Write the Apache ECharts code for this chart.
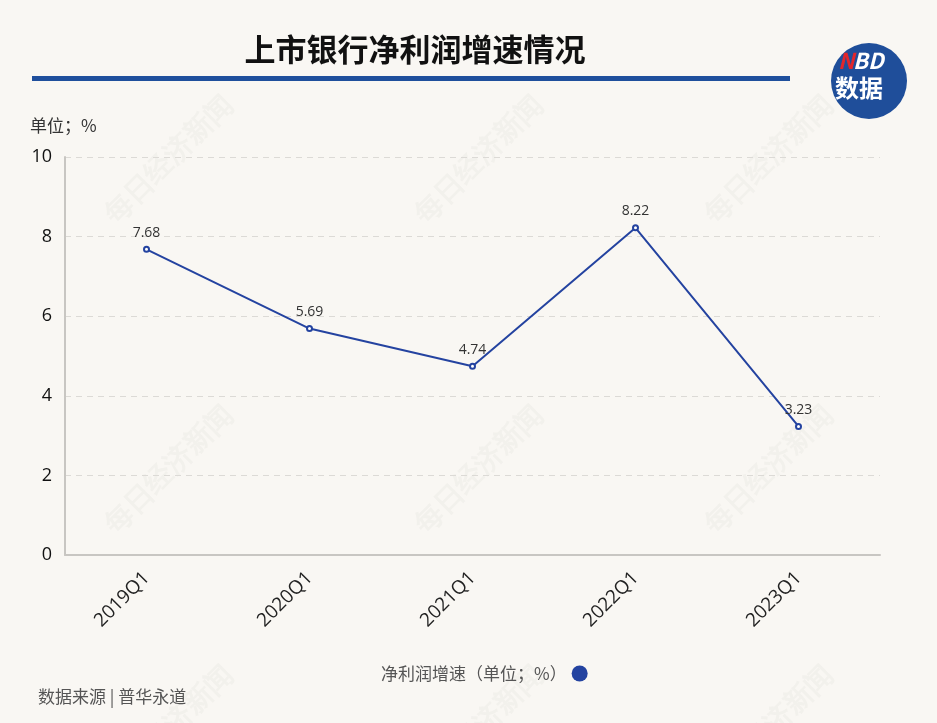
<!DOCTYPE html>
<html><head><meta charset="utf-8">
<script src="https://cdn.jsdelivr.net/npm/echarts@6/dist/echarts.min.js"></script>
<style>html,body{margin:0;padding:0;background:#f9f7f3;}#c{width:937px;height:723px;}</style>
</head><body><div id="c"></div>
<script>
const categories = ['2019Q1','2020Q1','2021Q1','2022Q1','2023Q1'];
const growth = [7.68, 5.69, 4.74, 8.22, 3.23];
const seriesName = '净利润增速（单位；%）';
const titleText = '上市银行净利润增速情况';
const sourceText = '数据来源 | 普华永道';
const unitText = '单位；%';
const watermark = '每日经济新闻';

const font = '"Noto Sans CJK SC", "Noto Sans", sans-serif';
const wmPos = [[170,160],[480,160],[770,160],[170,470],[480,470],[770,470],[170,730],[480,730],[770,730]];
const graphics = [
  {type:'rect', shape:{x:32,y:76,width:758,height:5}, style:{fill:'#1f4f9c'}},
  {type:'circle', shape:{cx:869,cy:81,r:38}, style:{fill:'#1f4e9a'}},
  {type:'text', left:838, top:50, style:{text:'N', fill:'#e3262b', font:'bold italic 22px '+font}},
  {type:'text', left:853, top:50, style:{text:'BD', fill:'#ffffff', font:'bold italic 22px '+font}},
  {type:'text', left:835, top:76, style:{text:'数据', fill:'#ffffff', font:'bold 24px '+font}},
  {type:'text', left:30, top:117, style:{text:unitText, fill:'#333', font:'17px '+font}},
  {type:'text', left:38, top:688, style:{text:sourceText, fill:'#555', font:'17px '+font}}
];
wmPos.forEach(p=>{
  graphics.push({type:'text', x:p[0], y:p[1], rotation:Math.PI/4, z:-1,
    style:{text:watermark, fill:'rgba(200,195,190,0.12)', font:'bold 28px serif', align:'center', verticalAlign:'middle'}});
});

const chart = echarts.init(document.getElementById('c'));
chart.setOption({
  backgroundColor:'#f9f7f3',
  textStyle:{fontFamily:font},
  title:{text:titleText, left:410, top:29, textAlign:'center',
    textStyle:{fontSize:31, fontWeight:'bold', color:'#111', fontFamily:font}},
  graphic: graphics,
  legend:{data:[{name:seriesName, icon:'circle'}], bottom:36, left:376, align:'right',
    itemWidth:16, itemHeight:16, itemGap:0,
    textStyle:{fontSize:17, color:'#555', fontFamily:font}},
  grid:{left:65, right:57, top:157, bottom:168},
  xAxis:{type:'category', data:categories, boundaryGap:true,
    axisLine:{lineStyle:{color:'#c8c6c2', width:2}},
    axisTick:{show:false},
    axisLabel:{rotate:45, fontSize:19, color:'#222', margin:20, fontFamily:'"Open Sans", sans-serif'}},
  yAxis:{type:'value', min:0, max:10, interval:2,
    axisLine:{show:true, lineStyle:{color:'#c8c6c2', width:2}},
    axisTick:{show:false},
    axisLabel:{fontSize:18, color:'#111', margin:13, fontFamily:'"Open Sans", sans-serif'},
    splitLine:{lineStyle:{type:[6,5], color:'#dcdad6', width:1}}},
  series:[{name:seriesName, type:'line', data:growth,
    symbol:'emptyCircle', symbolSize:5,
    lineStyle:{color:'#2443a0', width:2},
    itemStyle:{color:'#2443a0', borderColor:'#2443a0'},
    label:{show:true, position:'top', fontSize:14, color:'#333', distance:6, fontFamily:'"Open Sans", sans-serif'}}],
  color:['#1a3fa8']
});
</script></body></html>
